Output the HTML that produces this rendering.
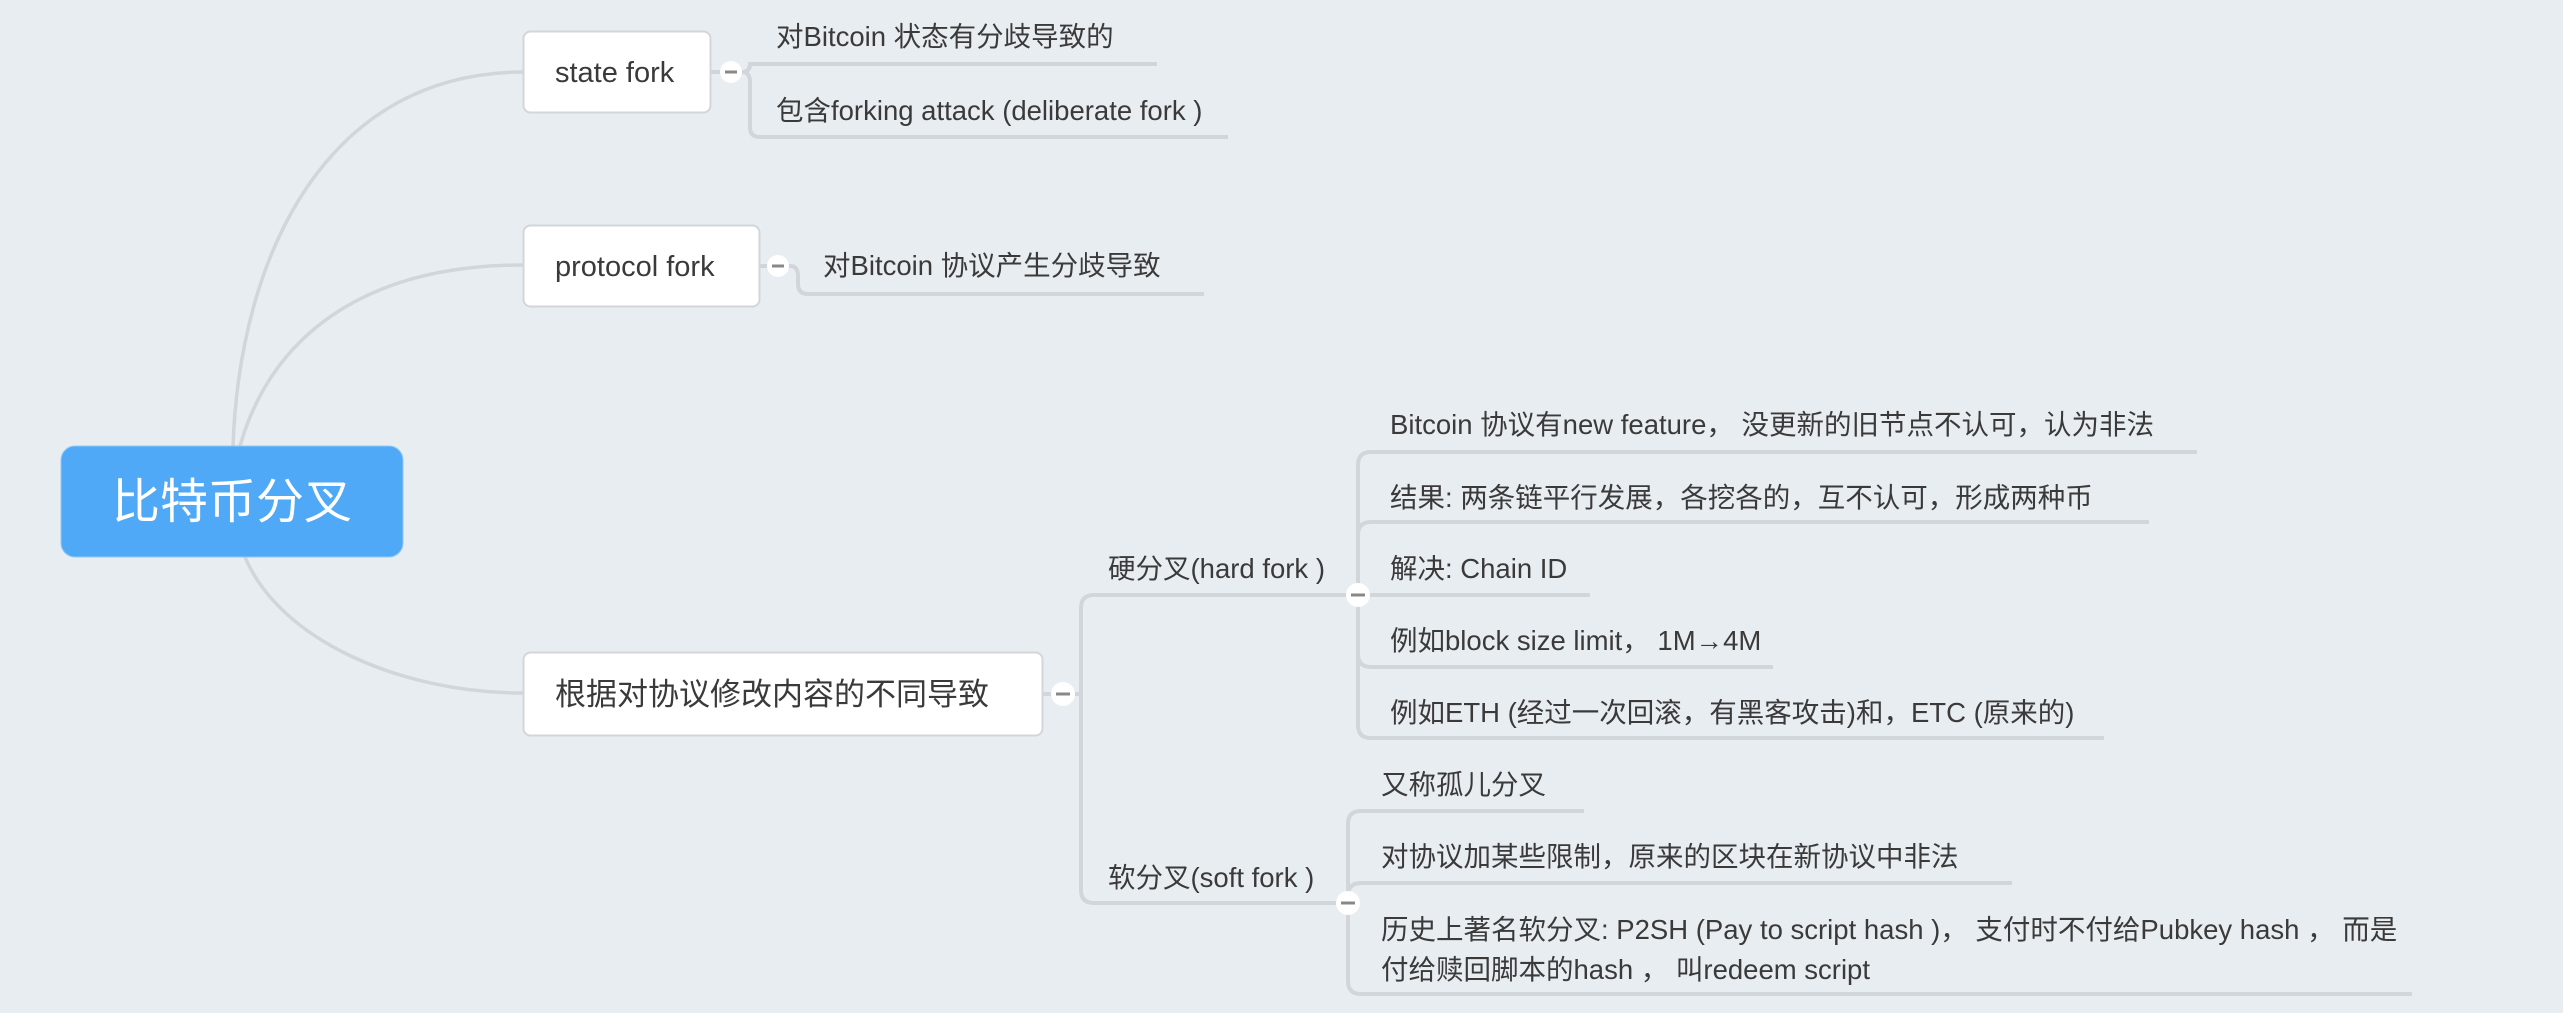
<!DOCTYPE html>
<html><head><meta charset="utf-8"><style>
html,body{margin:0;padding:0;background:#e8edf1;}
svg{display:block}
text{font-family:"Liberation Sans","Noto Sans CJK SC",sans-serif;fill:#3a3a3a;}
</style></head><body>
<svg width="2563" height="1013" viewBox="0 0 2563 1013" xmlns="http://www.w3.org/2000/svg">
<rect width="2563" height="1013" fill="#e8edf1"/>
<g fill="none" stroke="#d2d6da" stroke-width="3.5">
<path d="M233 446 C 240 250, 330 72, 523 72"/>
<path d="M240 446 C 270 340, 360 265, 523 265"/>
<path d="M245 557 C 280 640, 400 693, 523 693"/>
</g>
<g fill="none" stroke="#d2d6da" stroke-width="4">
<path d="M711 72 H731"/>
<path d="M731 72 H742 Q750 72 750 82 V127 Q750 137 760 137 H1228"/>
<path d="M742 72 Q750 72 750 64 H1157"/>
<path d="M760 266 H778"/>
<path d="M778 266 H790 Q798 266 798 276 V284 Q798 294 808 294 H1204"/>
<path d="M1043 694 H1063"/>
<path d="M1063 694 H1081"/>
<path d="M1081 694 V608 Q1081 595 1094 595 H1358"/>
<path d="M1081 694 V890 Q1081 903 1094 903 H1347"/>
<path d="M1358 595 V465 Q1358 452 1371 452 H2197"/>
<path d="M1358 535 Q1358 522 1371 522 H2149"/>
<path d="M1358 595 H1590"/>
<path d="M1358 595 V654 Q1358 667 1371 667 H1773"/>
<path d="M1358 595 V725 Q1358 738 1371 738 H2104"/>
<path d="M1348 903 V824 Q1348 811 1361 811 H1584"/>
<path d="M1348 896 Q1348 883 1361 883 H2012"/>
<path d="M1348 903 V981 Q1348 994 1361 994 H2412"/>
</g>
<rect x="61" y="446" width="342" height="111" rx="14" fill="#4fa9f6" stroke="#8fcaf7" stroke-width="1"/>
<text x="232" y="518" font-size="48" text-anchor="middle" style="fill:#fff">比特币分叉</text>
<rect x="523.5" y="31.5" width="187" height="81" rx="7" fill="#fff" stroke="#d2d6da" stroke-width="2"/>
<text x="555" y="82" font-size="29">state fork</text>
<rect x="523.5" y="225.5" width="236" height="81" rx="7" fill="#fff" stroke="#d2d6da" stroke-width="2"/>
<text x="555" y="276" font-size="29">protocol fork</text>
<rect x="523.5" y="652.5" width="519" height="83" rx="7" fill="#fff" stroke="#d2d6da" stroke-width="2"/>
<text x="555" y="705" font-size="31">根据对协议修改内容的不同导致</text>
<g fill="#fff"><circle cx="731" cy="72" r="11"/><circle cx="778" cy="266" r="11"/><circle cx="1063" cy="694" r="12"/><circle cx="1358" cy="595" r="12"/><circle cx="1348" cy="903" r="12"/></g>
<g stroke="#888" stroke-width="3"><path d="M725 72H737"/><path d="M772 266H784"/><path d="M1056 694H1070"/><path d="M1351 595H1365"/><path d="M1341 903H1355"/></g>
<g font-size="27.5">
<text x="776" y="46">对Bitcoin 状态有分歧导致的</text>
<text x="776" y="120">包含forking attack (deliberate fork )</text>
<text x="823" y="275">对Bitcoin 协议产生分歧导致</text>
<text x="1108" y="578">硬分叉(hard fork )</text>
<text x="1108" y="887">软分叉(soft fork )</text>
<text x="1390" y="434">Bitcoin 协议有new feature， 没更新的旧节点不认可，认为非法</text>
<text x="1390" y="507">结果: 两条链平行发展，各挖各的，互不认可，形成两种币</text>
<text x="1390" y="578">解决: Chain ID</text>
<text x="1390" y="650">例如block size limit，  1M→4M</text>
<text x="1390" y="722">例如ETH (经过一次回滚，有黑客攻击)和，ETC (原来的)</text>
<text x="1381" y="794">又称孤儿分叉</text>
<text x="1381" y="866">对协议加某些限制，原来的区块在新协议中非法</text>
<text x="1381" y="939">历史上著名软分叉: P2SH (Pay to script hash )， 支付时不付给Pubkey hash ， 而是</text>
<text x="1381" y="979">付给赎回脚本的hash ， 叫redeem script</text>
</g>
</svg>
</body></html>
